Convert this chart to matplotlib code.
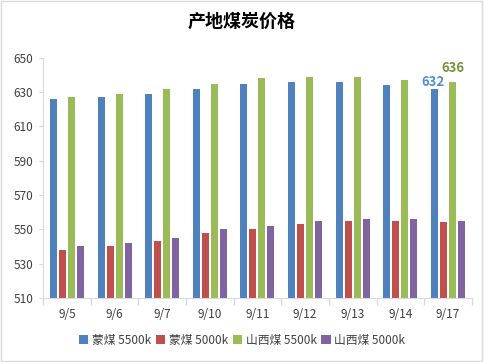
import numpy as np
import matplotlib
matplotlib.use("Agg")
import matplotlib.pyplot as plt
from matplotlib.patches import Rectangle

plt.rcParams['font.family'] = ['Noto Sans CJK SC', 'DejaVu Sans']

dates = ["9/5", "9/6", "9/7", "9/10", "9/11", "9/12", "9/13", "9/14", "9/17"]
meng_5500 = [626, 627, 629, 632, 635, 636, 636, 634, 632]
meng_5000 = [538, 540, 543, 548, 550, 553, 555, 555, 554]
shanxi_5500 = [627, 629, 632, 635, 638, 639, 639, 637, 636]
shanxi_5000 = [540, 542, 545, 550, 552, 555, 556, 556, 555]
series_names = ["蒙煤 5500k", "蒙煤 5000k", "山西煤 5500k", "山西煤 5000k"]
colors = ["#4F81BD", "#C0504D", "#9BBB59", "#8064A2"]

fig = plt.figure(figsize=(4.84, 3.62), dpi=100)
ax = fig.add_axes([0.089, 0.177, 0.886, 0.663])

x = np.arange(len(dates))
slot = 0.189
width = 0.147
for i, vals in enumerate([meng_5500, meng_5000, shanxi_5500, shanxi_5000]):
    ax.bar(x + (i - 1.5) * slot, vals, width=width, color=colors[i],
           label=series_names[i], zorder=2)

# labels for the last date
ax.annotate(str(meng_5500[-1]), (x[-1] - 1.5 * slot, meng_5500[-1]),
            xytext=(-1, 0), textcoords="offset points", ha="center", va="bottom",
            fontsize=9.5, fontweight="bold", color="#558ED5")
ax.annotate(str(shanxi_5500[-1]), (x[-1] + 0.5 * slot, shanxi_5500[-1]),
            xytext=(0, 5), textcoords="offset points", ha="center", va="bottom",
            fontsize=9.5, fontweight="bold", color="#77933C")

ax.set_xlim(-0.5, len(dates) - 0.5)
ax.set_ylim(510, 650)
ax.set_yticks(np.arange(510, 651, 20))
ax.set_xticks(x)
ax.set_xticklabels(dates)
ax.set_xticks(np.arange(-0.5, len(dates), 1), minor=True)
ax.tick_params(axis="x", which="major", length=0, pad=7, labelsize=8.5, labelcolor="#404040")
ax.tick_params(axis="x", which="minor", length=5, color="#D9D9D9", width=1)
ax.tick_params(axis="y", length=3, color="#D9D9D9", labelsize=8.5, labelcolor="#404040", pad=4)

for s in ["top", "right"]:
    ax.spines[s].set_visible(False)
for s in ["left", "bottom"]:
    ax.spines[s].set_color("#D9D9D9")

fig.text(0.5, 0.94, "产地煤炭价格", ha="center", va="center",
         fontsize=13, fontweight="bold", color="black")

fig.legend(loc="center", bbox_to_anchor=(0.5, 0.06), ncol=4, frameon=False,
           fontsize=8.5, handlelength=0.8, handleheight=0.8, handletextpad=0.3,
           columnspacing=0.4, labelcolor="#404040")

fig.patches.append(Rectangle((0.002, 0.003), 0.994, 0.993, transform=fig.transFigure,
                             fill=False, edgecolor="#D9D9D9", linewidth=1))

fig.savefig("out.png", dpi=100)
